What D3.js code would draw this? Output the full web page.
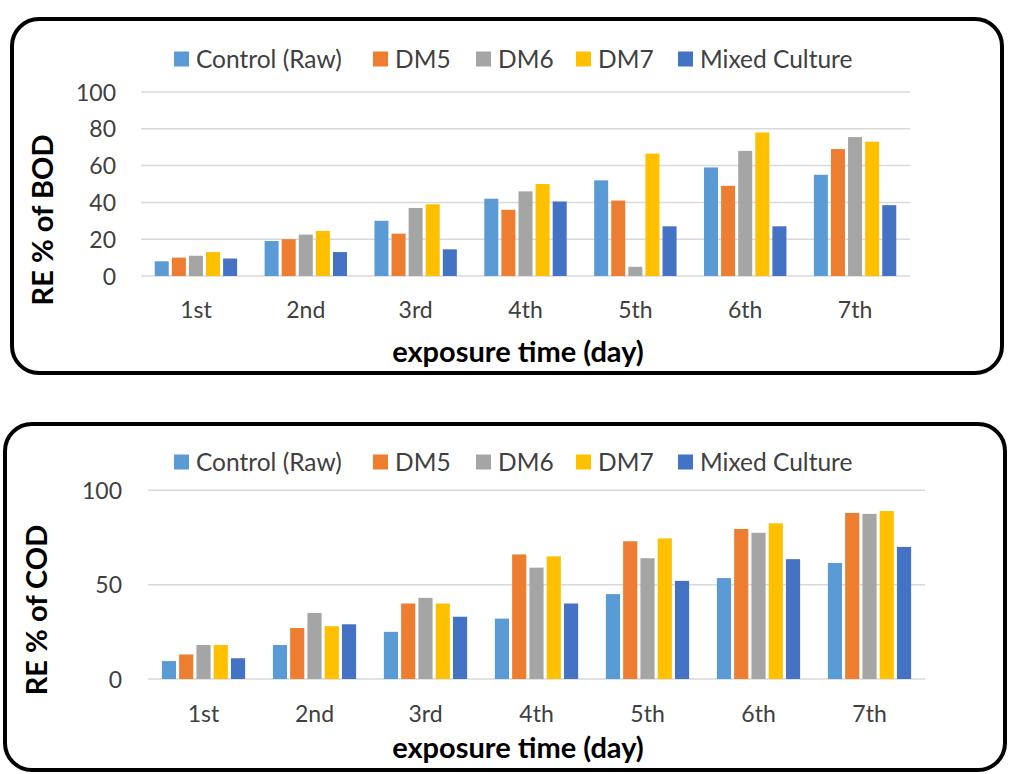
<!DOCTYPE html>
<html>
<head>
<meta charset="utf-8">
<script src="https://cdn.jsdelivr.net/npm/d3@7"></script>
<style>
  html, body { margin: 0; padding: 0; background: #fff; }
  svg { display: block; }
  text { font-family: Lato, "Open Sans", sans-serif; }
</style>
</head>
<body>
<svg id="chart" width="1010" height="774"></svg>
<script>
// ---------- DATA ----------
const categories = ["1st", "2nd", "3rd", "4th", "5th", "6th", "7th"];
const seriesNames = ["Control (Raw)", "DM5", "DM6", "DM7", "Mixed Culture"];
const seriesColors = ["#5B9BD5", "#ED7D31", "#A5A5A5", "#FFC000", "#4472C4"];

// RE % of BOD
const bodControl = [8, 19, 30, 42, 52, 59, 55];
const bodDM5     = [10, 20, 23, 36, 41, 49, 69];
const bodDM6     = [11, 22.5, 37, 46, 5, 68, 75.5];
const bodDM7     = [13, 24.5, 39, 50, 66.5, 78, 73];
const bodMixed   = [9.5, 13, 14.5, 40.5, 27, 27, 38.5];

// RE % of COD
const codControl = [9.5, 18, 25, 32, 45, 53.5, 61.5];
const codDM5     = [13, 27, 40, 66, 73, 79.5, 88];
const codDM6     = [18, 35, 43, 59, 64, 77.5, 87.5];
const codDM7     = [18, 28, 40, 65, 74.5, 82.5, 89];
const codMixed   = [11, 29, 33, 40, 52, 63.5, 70];

const bodTicks = [0, 20, 40, 60, 80, 100];
const codTicks = [0, 50, 100];

// ---------- DRAW ----------
const svg = d3.select("#chart");

function panel(opts) {
  const g = svg.append("g");
  // frame
  g.append("rect")
    .attr("x", opts.box[0]).attr("y", opts.box[1])
    .attr("width", opts.box[2]).attr("height", opts.box[3])
    .attr("rx", 27).attr("ry", 27)
    .attr("fill", "#fff").attr("stroke", "#000").attr("stroke-width", 4);

  const x = d3.scaleBand().domain(categories).range([opts.plot[0], opts.plot[1]]);
  const y = d3.scaleLinear().domain([0, 100]).range([opts.plot[2], opts.plot[3]]);

  // gridlines
  g.append("g").selectAll("line").data(opts.ticks).join("line")
    .attr("x1", opts.plot[0]).attr("x2", opts.plot[1])
    .attr("y1", d => y(d)).attr("y2", d => y(d))
    .attr("stroke", "#d9d9d9").attr("stroke-width", 1.5);

  // y axis tick labels
  const yAxis = g.append("g")
    .attr("transform", `translate(${opts.tickRight},0)`)
    .call(d3.axisLeft(y).tickValues(opts.ticks).tickSize(0).tickPadding(0));
  yAxis.select(".domain").remove();
  yAxis.selectAll("text")
    .attr("font-family", "Lato, sans-serif")
    .attr("font-size", 23).attr("fill", "#404040").attr("dy", "0.35em");

  // x axis labels
  const xAxis = g.append("g")
    .attr("transform", `translate(0,${opts.xLabelY})`)
    .call(d3.axisBottom(x).tickSize(0).tickPadding(0));
  xAxis.select(".domain").remove();
  xAxis.selectAll("text")
    .attr("font-family", "Lato, sans-serif")
    .attr("font-size", 23).attr("fill", "#404040").attr("dy", "0.35em");

  // bars
  const groupW = x.bandwidth() * 0.75;
  const inner = d3.scaleBand().domain(seriesNames).range([0, groupW]).paddingInner(0.18).paddingOuter(0);
  opts.data.forEach((vals, si) => {
    g.append("g").selectAll("rect").data(vals).join("rect")
      .attr("x", (d, i) => x(categories[i]) + (x.bandwidth() - groupW) / 2 + inner(seriesNames[si]))
      .attr("width", inner.bandwidth())
      .attr("y", d => y(d))
      .attr("height", d => y(0) - y(d))
      .attr("fill", seriesColors[si]);
  });

  // legend
  const legendX = [174, 373, 476, 576, 678];
  const lg = g.append("g");
  seriesNames.forEach((name, i) => {
    lg.append("rect").attr("x", legendX[i]).attr("y", opts.legendY - 7.5)
      .attr("width", 15).attr("height", 15).attr("fill", seriesColors[i]);
    lg.append("text").attr("x", legendX[i] + 22).attr("y", opts.legendY)
      .attr("dy", "0.35em").attr("font-size", 24.5).attr("fill", "#404040")
      .text(name);
  });

  // axis titles
  g.append("text")
    .attr("x", opts.xTitle[0]).attr("y", opts.xTitle[1])
    .attr("text-anchor", "middle").attr("dy", "0.35em")
    .attr("font-size", 29).attr("font-weight", "bold").attr("fill", "#000")
    .text("exposure time (day)");
  g.append("text")
    .attr("transform", `translate(${opts.yTitle[0]},${opts.yTitle[1]}) rotate(-90)`)
    .attr("text-anchor", "middle").attr("dy", "0.35em")
    .attr("font-size", 29).attr("font-weight", "bold").attr("fill", "#000")
    .text(opts.yTitleText);
}

panel({
  box: [12, 19, 990, 354],
  plot: [141, 910, 276, 92],
  ticks: bodTicks,
  tickRight: 116,
  xLabelY: 310,
  legendY: 59,
  xTitle: [518, 352],
  yTitle: [43, 220],
  yTitleText: "RE % of BOD",
  data: [bodControl, bodDM5, bodDM6, bodDM7, bodMixed]
});

panel({
  box: [5, 424, 1000, 346],
  plot: [148, 925, 679, 490.3],
  ticks: codTicks,
  tickRight: 122,
  xLabelY: 714,
  legendY: 462,
  xTitle: [518, 748],
  yTitle: [37, 610],
  yTitleText: "RE % of COD",
  data: [codControl, codDM5, codDM6, codDM7, codMixed]
});
</script>
</body>
</html>
